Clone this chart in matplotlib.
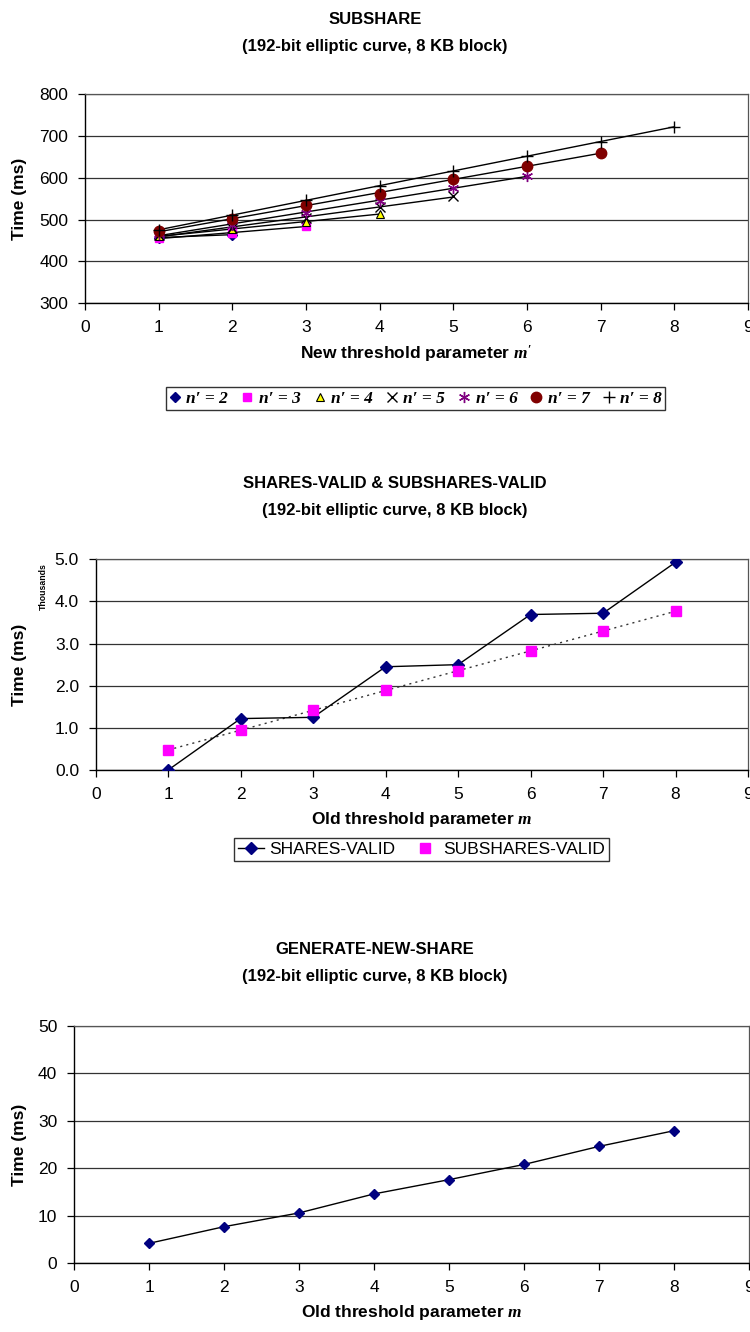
import numpy as np
import matplotlib
matplotlib.use('Agg')
from matplotlib import pyplot as plt
from matplotlib.font_manager import FontProperties

plt.rcParams['font.family'] = ['Liberation Sans', 'DejaVu Sans']
plt.rcParams['mathtext.fontset'] = 'custom'
plt.rcParams['mathtext.it'] = 'Liberation Serif:italic:bold'
plt.rcParams['mathtext.rm'] = 'Liberation Serif:bold'

# SUBSHARE timings (ms), one list per n'
m_new = [1, 2, 3, 4, 5, 6, 7, 8]
sub_n2 = [457, 464]
sub_n3 = [455, 468, 484]
sub_n4 = [460, 478, 494, 514]
sub_n5 = [462, 480, 504, 530, 556]
sub_n6 = [465, 488, 516, 544, 576, 605]
sub_n7 = [472, 501, 535, 562, 596, 628, 659]
sub_n8 = [475, 511, 546, 581, 617, 652, 685, 722]
sub_labels = ["n\u2032 = 2", "n\u2032 = 3", "n\u2032 = 4", "n\u2032 = 5",
              "n\u2032 = 6", "n\u2032 = 7", "n\u2032 = 8"]

# SHARES-VALID / SUBSHARES-VALID timings (ms)
m_old = [1, 2, 3, 4, 5, 6, 7, 8]
shares_valid = [0, 1220, 1250, 2450, 2500, 3690, 3720, 4930]
subshares_valid = [470, 950, 1420, 1890, 2350, 2820, 3300, 3770]

# GENERATE-NEW-SHARE timings (ms)
gen_new_share = [4.2, 7.7, 10.6, 14.6, 17.6, 20.8, 24.6, 27.9]

W, H = 750, 1332
fig = plt.figure(figsize=(W / 100, H / 100), dpi=100)
FS = 12.5


def ax_at(l, t, r, b):
    return fig.add_axes([l / W, 1 - b / H, (r - l) / W, (b - t) / H])


def style(ax, l, r, ymin, ymax, ystep, fmt):
    ax.set_xlim(0, 9)
    ax.set_ylim(ymin, ymax)
    ax.set_xticks(range(10))
    ticks = np.arange(ymin, ymax + ystep / 2, ystep)
    ax.set_yticks(ticks)
    ax.set_yticklabels([fmt.format(v) for v in ticks])
    ax.grid(axis='y', color='#333333', lw=0.9)
    ax.set_axisbelow(True)
    for s in ['top', 'right']:
        ax.spines[s].set_color('#555555')
        ax.spines[s].set_linewidth(0.9)
    for s in ['left', 'bottom']:
        ax.spines[s].set_color('black')
        ax.spines[s].set_linewidth(1.0)
    ax.tick_params(direction='out', length=5, width=0.9, labelsize=FS, pad=7)
    ax.set_ylabel('Time (ms)', fontsize=FS, fontweight='bold', va='center')
    ax.yaxis.set_label_coords((20 - l) / (r - l), 0.5)


def titles(x, y, line1):
    fig.text(x / W, 1 - y / H, line1, ha='center', va='center', fontsize=12, fontweight='bold')
    fig.text(x / W, 1 - (y + 27) / H, '(192-bit elliptic curve, 8 KB block)',
             ha='center', va='center', fontsize=12, fontweight='bold')


# ---- chart 1: SUBSHARE
ax1 = ax_at(85, 94, 748, 303.3)
style(ax1, 85, 748, 300, 800, 100, '{:.0f}')
titles(375, 20, 'SUBSHARE')
series = [sub_n2, sub_n3, sub_n4, sub_n5, sub_n6, sub_n7, sub_n8]
marks = [dict(marker='D', color='#000080', ms=5, mec='#000080'),
         dict(marker='s', color='#FF00FF', ms=6, mec='#FF00FF'),
         dict(marker='^', color='#FFFF00', ms=6, mec='black', mew=0.8),
         dict(marker='x', color='black', ms=7, mew=1.0),
         dict(marker=(6, 2, 0), color='#800080', ms=8, mew=1.0),
         dict(marker='o', color='#800000', ms=7.5, mec='#800000'),
         dict(marker='+', color='black', ms=9, mew=1.0)]
for vals, mk, lab in zip(series, marks, sub_labels):
    xs = m_new[:len(vals)]
    k, c = np.polyfit(xs, vals, 1)
    ax1.plot([xs[0], xs[-1]], [k * xs[0] + c, k * xs[-1] + c], color='black', lw=1.0, zorder=2)
    ax1.plot(xs, vals, ls='none', label=lab, zorder=3, **mk)
ax1.set_xlabel("New threshold parameter $m'$", fontsize=FS, fontweight='bold', labelpad=6)
leg_font = FontProperties(family=['Liberation Serif', 'DejaVu Serif'], style='italic',
                          weight='bold', size=FS)
leg1 = ax1.legend(loc='center', bbox_to_anchor=(415.5 / W, 1 - 398.5 / H),
                  bbox_transform=fig.transFigure, ncol=7, prop=leg_font, frameon=True,
                  fancybox=False, edgecolor='black', handlelength=0.7, handletextpad=0.3,
                  columnspacing=0.75, borderpad=0.2, borderaxespad=0)
leg1.get_frame().set_linewidth(1.0)

# ---- chart 2: SHARES-VALID & SUBSHARES-VALID
ax2 = ax_at(95.7, 559.3, 748, 770)
style(ax2, 95.7, 748, 0, 5, 1, '{:.1f}')
titles(395, 484, 'SHARES-VALID & SUBSHARES-VALID')
sv = np.array(shares_valid) / 1000
ssv = np.array(subshares_valid) / 1000
ax2.plot(m_old, sv, color='black', lw=1.0, marker='D', ms=6, mfc='#000080', mec='#000080',
         label='SHARES-VALID', zorder=3)
k, c = np.polyfit(m_old, ssv, 1)
ax2.plot([m_old[0], m_old[-1]], [k * m_old[0] + c, k * m_old[-1] + c], color='#333333',
         lw=1.0, ls=(0, (1.5, 3)), zorder=2)
ax2.plot(m_old, ssv, ls='none', marker='s', ms=7, color='#FF00FF', label='SUBSHARES-VALID', zorder=3)
ax2.set_xlabel("Old threshold parameter $m$", fontsize=FS, fontweight='bold', labelpad=6)
fig.text(43 / W, 1 - 587 / H, 'Thousands', rotation=90, ha='center', va='center',
         fontsize=6.3, fontweight='bold')
leg2 = ax2.legend(loc='center', bbox_to_anchor=(421.5 / W, 1 - 849.5 / H),
                  bbox_transform=fig.transFigure, ncol=2, fontsize=FS, frameon=True,
                  fancybox=False, edgecolor='black', handlelength=1.5, handletextpad=0.3,
                  columnspacing=1.0, borderpad=0.2, borderaxespad=0)
leg2.get_frame().set_linewidth(1.0)

# ---- chart 3: GENERATE-NEW-SHARE
ax3 = ax_at(74, 1025.7, 749, 1263.3)
style(ax3, 74, 749, 0, 50, 10, '{:.0f}')
titles(375, 949, 'GENERATE-NEW-SHARE')
ax3.plot(m_old, gen_new_share, color='black', lw=1.0, marker='D', ms=5, mfc='#000080',
         mec='#000080', zorder=3)
ax3.set_xlabel("Old threshold parameter $m$", fontsize=FS, fontweight='bold', labelpad=6)

fig.savefig('out.png', dpi=100)
